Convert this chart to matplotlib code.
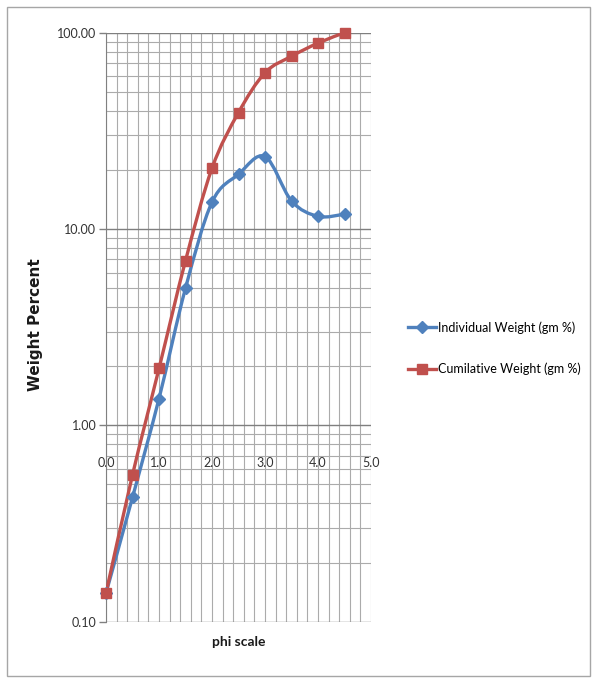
import numpy as np
import matplotlib
matplotlib.use("Agg")
import matplotlib.pyplot as plt
from matplotlib.path import Path
from matplotlib.patches import PathPatch, Rectangle
from matplotlib.lines import Line2D
from matplotlib.ticker import MultipleLocator, FixedLocator, LogLocator, NullFormatter, FormatStrFormatter

# grain size distribution, phi scale vs weight percent
phi = [0.0, 0.5, 1.0, 1.5, 2.0, 2.5, 3.0, 3.5, 4.0, 4.5]
individual = [0.14, 0.43, 1.37, 5.0, 13.7, 19.0, 23.4, 13.9, 11.6, 11.9]
cumulative = [0.14, 0.56, 1.95, 6.9, 20.4, 39.2, 62.5, 75.8, 88.5, 100.0]

y_ticks = [0.1, 1, 10, 100]
x_ticks = [0, 1, 2, 3, 4, 5]

blue = '#4F81BD'
red = '#C0504D'


def smooth_path(x, y):
    # catmull-rom style bezier through the points, done in (x, log y) space
    px = np.asarray(x, float)
    py = np.log10(np.asarray(y, float))
    ex = np.concatenate([[px[0]], px, [px[-1]]])
    ey = np.concatenate([[py[0]], py, [py[-1]]])
    verts = [(px[0], py[0])]
    codes = [Path.MOVETO]
    for i in range(1, len(px)):
        x0, x1, x2, x3 = ex[i - 1], ex[i], ex[i + 1], ex[i + 2]
        y0, y1, y2, y3 = ey[i - 1], ey[i], ey[i + 1], ey[i + 2]
        verts += [(x1 + (x2 - x0) / 6, y1 + (y2 - y0) / 6),
                  (x2 - (x3 - x1) / 6, y2 - (y3 - y1) / 6),
                  (x2, y2)]
        codes += [Path.CURVE4] * 3
    verts = np.array(verts)
    verts[:, 1] = 10 ** verts[:, 1]
    return Path(verts, codes)


fig = plt.figure(figsize=(5.92, 6.79), dpi=100)
fig.patches.append(Rectangle((0.012, 0.005), 0.984, 0.985, transform=fig.transFigure,
                             fill=False, edgecolor='#a6a6a6', lw=1.0))

ax = fig.add_axes([0.1791, 0.0844, 0.4476, 0.8675])
ax.set_yscale('log')
ax.set_xlim(0, 5)
ax.set_ylim(0.1, 100)

for vals, col, mk, ms in [(individual, blue, 'D', 6.5), (cumulative, red, 's', 7.5)]:
    ax.add_patch(PathPatch(smooth_path(phi, vals), fill=False, edgecolor=col,
                           lw=2.4, transform=ax.transData, zorder=3))
    ax.plot(phi, vals, linestyle='none', marker=mk, ms=ms, color=col,
            clip_on=False, zorder=4)

# grid
ax.xaxis.set_major_locator(FixedLocator(x_ticks))
ax.xaxis.set_minor_locator(MultipleLocator(0.2))
ax.xaxis.set_major_formatter(FormatStrFormatter('%.1f'))
ax.yaxis.set_major_locator(FixedLocator(y_ticks))
ax.yaxis.set_minor_locator(LogLocator(base=10, subs=np.arange(2, 10)))
ax.yaxis.set_major_formatter(FormatStrFormatter('%.2f'))
ax.yaxis.set_minor_formatter(NullFormatter())
ax.grid(which='major', axis='y', color='#7f7f7f', lw=1.0)
ax.grid(which='minor', axis='y', color='#ababab', lw=0.8)
ax.grid(which='both', axis='x', color='#ababab', lw=0.8)
ax.set_axisbelow(True)

for s in ['top', 'right']:
    ax.spines[s].set_visible(False)
ax.spines['left'].set_color('#808080')
ax.spines['bottom'].set_position(('data', 0.8))
ax.spines['bottom'].set_visible(False)

ax.tick_params(axis='x', which='both', length=0, pad=9, labelsize=9, labelcolor='#333333')
ax.tick_params(axis='y', which='major', length=5, width=1, color='#808080', pad=2,
               labelsize=9, labelcolor='#333333')
ax.tick_params(axis='y', which='minor', length=0)
for lab in ax.get_xticklabels() + ax.get_yticklabels():
    lab.set_family('Lato')

fig.text(36 / 592, 1 - 325 / 679, 'Weight Percent', rotation=90, ha='center', va='center',
         fontsize=11, fontweight='bold', family='DejaVu Sans', color='#1a1a1a')
fig.text(239 / 592, 1 - 642 / 679, 'phi scale', ha='center', va='center',
         fontsize=10, fontweight='bold', family='Lato', color='#1a1a1a')

handles = [Line2D([], [], color=blue, lw=2.4, marker='D', ms=6.5),
           Line2D([], [], color=red, lw=2.4, marker='s', ms=7.5)]
fig.legend(handles, ['Individual Weight (gm %)', 'Cumilative Weight (gm %)'],
           loc='center left', bbox_to_anchor=(402 / 592, 1 - 348 / 679), frameon=False,
           borderpad=0, handlelength=2.2, handletextpad=0.2, labelspacing=2.3,
           prop={'family': 'Lato', 'size': 9})

fig.savefig('out.png', dpi=100)
